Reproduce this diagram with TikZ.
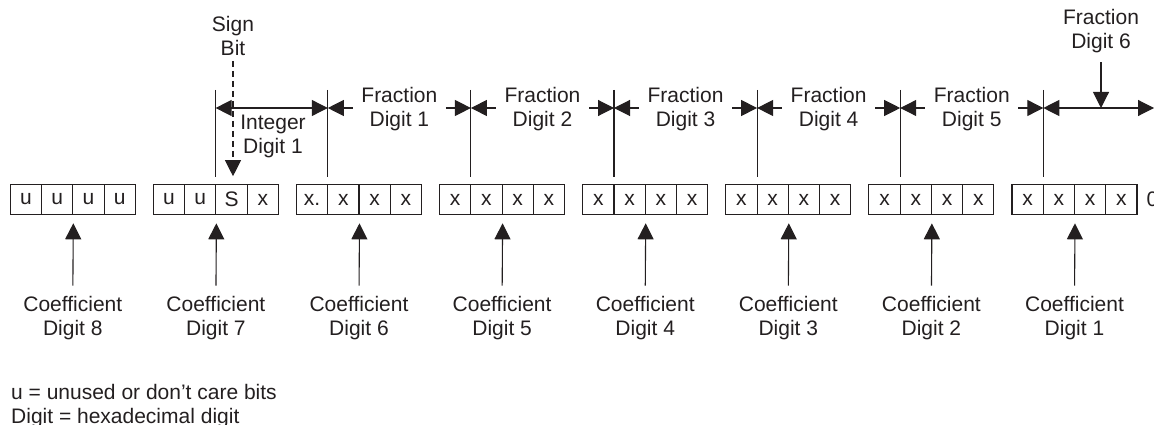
\documentclass[tikz,border=0pt]{standalone}
\usepackage{fontspec}
\setmainfont{Liberation Sans}
\usetikzlibrary{arrows.meta}
\definecolor{ink}{RGB}{35,31,32}
\begin{document}
\begin{tikzpicture}[x=1pt,y=-1pt,
  every node/.style={font=\fontsize{21}{24}\selectfont, text=ink, inner sep=0pt},
  cell/.style={draw=ink, line width=1.1pt, minimum width=31.25pt, minimum height=29.5pt},
  lbl/.style={align=center},
  dimline/.style={draw=ink, line width=1.1pt},
  bound/.style={draw=ink, line width=1.1pt},
  ptr/.style={draw=ink, line width=1.1pt, -{Triangle[length=16pt,width=16pt]}},
  dashptr/.style={draw=ink, line width=1.1pt, dash pattern=on 6pt off 4pt, -{Triangle[length=16pt,width=16pt]}}
]
\useasboundingbox (0,0) rectangle (1154,425);

% register cells
\foreach \g/\a/\b/\c/\d/\n in {1/u/u/u/u/8, 2/u/u/S/x/7, 3/x./x/x/x/6, 4/x/x/x/x/5, 5/x/x/x/x/4, 6/x/x/x/x/3, 7/x/x/x/x/2, 8/x/x/x/x/1}{
  \pgfmathsetmacro\s{10.3+143.1*(\g-1)}
  \node[cell] (g\g c1) at (\s+15.625,199.5) {\a};
  \node[cell] (g\g c2) at (\s+46.875,199.5) {\b};
  \node[cell] (g\g c3) at (\s+78.125,199.5) {\c};
  \node[cell] (g\g c4) at (\s+109.375,199.5) {\d};
  \node[lbl] (coef\g) at (\s+62.5,318.5) {Coefficient\\Digit \n};
  \draw[ptr, shorten <=11pt, shorten >=8.5pt] (coef\g.north) -- (g\g c2.south east);
}
\node[anchor=west] (zero) at (1146.5,199.5) {0};

% boundary lines
\coordinate (t1) at (215.6,90);  \coordinate (u1) at (215.6,177);
\coordinate (t2) at (327.8,90);  \coordinate (u2) at (327.8,177);
\coordinate (t3) at (470.9,90);  \coordinate (u3) at (470.9,177);
\coordinate (t4) at (614.0,90);  \coordinate (u4) at (614.0,177);
\coordinate (t5) at (757.1,90);  \coordinate (u5) at (757.1,177);
\coordinate (t6) at (900.2,90);  \coordinate (u6) at (900.2,177);
\coordinate (t7) at (1043.3,90); \coordinate (u7) at (1043.3,177);
\foreach \k in {1,...,7}{
  \draw[bound] (t\k) -- (u\k);
}

% dimension line points
\coordinate (d1) at (215.6,108);
\coordinate (d2) at (327.8,108);
\coordinate (d3) at (470.9,108);
\coordinate (d4) at (614.0,108);
\coordinate (d5) at (757.1,108);
\coordinate (d6) at (900.2,108);
\coordinate (d7) at (1043.3,108);
\coordinate (dend) at (1154,108);
\coordinate (v6) at (1101,108);

% integer digit 1
\draw[dimline, {Triangle[length=16pt,width=16pt]}-{Triangle[length=16pt,width=16pt]}] (d1) -- (d2);
\node[lbl] (int1) at (273,136.7) {Integer\\Digit 1};

% fraction digits 1-5
\foreach \k/\m in {2/3,3/4,4/5,5/6,6/7}{
  \draw[dimline, {Triangle[length=16pt,width=16pt]}-] (d\k) -- ++(25,0);
  \draw[dimline, -{Triangle[length=16pt,width=16pt]}] (d\m) ++(-25,0) -- (d\m);
}
\node[lbl] (fd1) at (399.35,109.5) {Fraction\\Digit 1};
\node[lbl] (fd2) at (542.45,109.5) {Fraction\\Digit 2};
\node[lbl] (fd3) at (685.55,109.5) {Fraction\\Digit 3};
\node[lbl] (fd4) at (828.65,109.5) {Fraction\\Digit 4};
\node[lbl] (fd5) at (971.75,109.5) {Fraction\\Digit 5};

% fraction digit 6
\draw[dimline, {Triangle[length=16pt,width=16pt]}-{Triangle[length=16pt,width=16pt]}] (d7) -- (dend);
\node[lbl] (fd6) at (1101,31) {Fraction\\Digit 6};
\draw[ptr, shorten <=9.5pt] (fd6.south) -- (v6);

% sign bit
\node[lbl] (sign) at (233,36) {Sign\\Bit};
\draw[dashptr, shorten <=5pt, shorten >=8pt] (sign.south) -- (sign.south |- g2c3.north);

% legend
\node[anchor=base west] (leg1) at (11,399.3) {u = unused or don’t care bits};
\node[anchor=base west] (leg2) at (11,423.3) {Digit = hexadecimal digit};
\end{tikzpicture}
\end{document}
